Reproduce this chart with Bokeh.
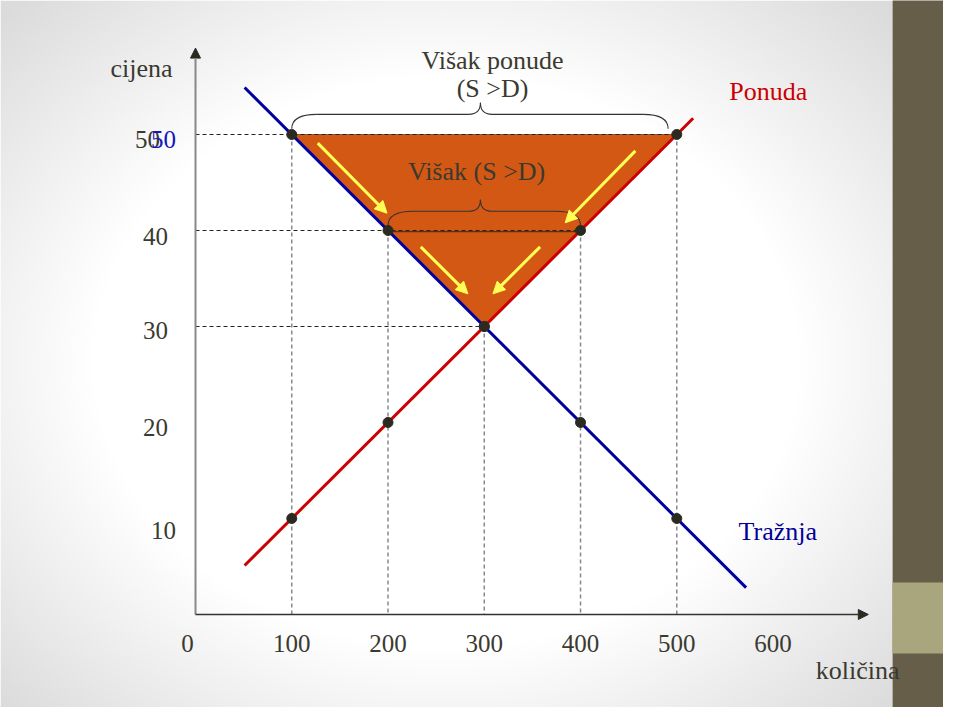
import numpy as np
from bokeh.plotting import figure
from bokeh.models import Range1d, Arrow, NormalHead, ColumnDataSource
from bokeh.core.properties import value
from bokeh.embed import file_html
from bokeh.resources import INLINE

# ---------------- data ----------------
quantity = [100, 200, 300, 400, 500]
demand_price = [50, 40, 30, 20, 10]
supply_price = [10, 20, 30, 40, 50]
demand_line_q = [51, 572]
demand_line_p = [54.9, 2.8]
supply_line_q = [51, 517]
supply_line_p = [5.1, 51.7]
surplus_q = [100, 500, 300]
surplus_p = [50, 50, 30]
inner_surplus_q = [200, 400]
inner_surplus_p = [40, 40]
x_ticks = [0, 100, 200, 300, 400, 500, 600]
y_ticks = [10, 20, 30, 40, 50]
arrow_x0 = [127, 457, 234, 358]
arrow_y0 = [49.1, 48.3, 38.3, 38.3]
arrow_x1 = [199, 384, 283, 309]
arrow_y1 = [41.8, 40.8, 33.4, 33.4]
brace_left = [100, 200]
brace_right = [491, 400]
brace_center = [296, 296]
brace_base = [50.6, 40.5]
x_axis_end = 699
y_axis_end = 59

# ---------------- styles / layout ----------------
FONT = value("Liberation Serif")
TXT = "#3a3a30"
X0, X1 = -202.6, 777.1
Y0, Y1 = -9.69, 63.96
SIDEBAR_X = 724.2

p = figure(width=943, height=707, x_range=Range1d(X0, X1), y_range=Range1d(Y0, Y1),
           output_backend="svg", toolbar_location=None, x_axis_location=None,
           y_axis_location=None, min_border=0, outline_line_color=None,
           background_fill_color="white", border_fill_color="white")
p.grid.visible = False

# background vignette
W, H = 446, 354
xs = np.linspace(0, 892, W)
ys = np.linspace(707, 0, H)  # row 0 bottom
XX, YY = np.meshgrid(xs, ys)
r = np.sqrt(((XX - 446) / 444.0) ** 2 + ((YY - 362) / 360.0) ** 2)
g = (255 - 36 * np.clip((r - 0.8) / 0.6, 0, 1)).astype(np.uint32)
img = (255 << 24) | (g << 16) | (g << 8) | g
p.image_rgba(image=[img.astype(np.uint32)], x=X0, y=Y0, dw=SIDEBAR_X - X0, dh=Y1 - Y0)

# sidebar
p.quad(left=SIDEBAR_X, right=X1 + 5, bottom=Y0 - 5, top=Y1 + 5, color="#665E48", line_color=None)
p.quad(left=SIDEBAR_X, right=X1 + 5, bottom=-4.06, top=3.33, color="#A9A57C", line_color=None)

# surplus triangle
p.patch(surplus_q, surplus_p, fill_color="#D35814", line_color="#7a4020", line_width=0.8)
p.line(inner_surplus_q, [v - 0.12 for v in inner_surplus_p], line_color="#5a3010", line_width=1.2)

# guide lines
eq_idx = [2, 3, 4]
p.segment(x0=[0] * 3, y0=[supply_price[i] for i in eq_idx],
          x1=[quantity[i] for i in eq_idx], y1=[supply_price[i] for i in eq_idx],
          line_color="#222222", line_dash="4 3", line_width=1)
p.segment(x0=quantity, y0=[max(a, b) for a, b in zip(demand_price, supply_price)],
          x1=quantity, y1=[0] * len(quantity),
          line_color="#8a8a8a", line_dash="4 3", line_width=1.5)

# braces
bx0, by0, bx1, by1, bcx, bcy = [], [], [], [], [], []
lx0, ly0, lx1, ly1 = [], [], [], []
RE, RP, H1, H2 = 26, 12, 1.5, 2.7
for L, R, C, B in zip(brace_left, brace_right, brace_center, brace_base):
    h = B + H1
    pk = B + H2
    bx0.append(L); by0.append(B); bx1.append(L + RE); by1.append(h); bcx.append(L); bcy.append(h)
    bx0.append(R); by0.append(B); bx1.append(R - RE); by1.append(h); bcx.append(R); bcy.append(h)
    bx0.append(C - RP); by0.append(h); bx1.append(C); by1.append(pk); bcx.append(C); bcy.append(h)
    bx0.append(C + RP); by0.append(h); bx1.append(C); by1.append(pk); bcx.append(C); bcy.append(h)
    lx0 += [L + RE, C + RP]; ly0 += [h, h]; lx1 += [C - RP, R - RE]; ly1 += [h, h]
p.quadratic(x0=bx0, y0=by0, x1=bx1, y1=by1, cx=bcx, cy=bcy, line_color="#333333", line_width=1.1)
p.segment(x0=lx0, y0=ly0, x1=lx1, y1=ly1, line_color="#333333", line_width=1.1)

# demand / supply
p.line(supply_line_q, supply_line_p, line_color="#CC0000", line_width=3)
p.line(demand_line_q, demand_line_p, line_color="#0000A0", line_width=3)

# points
p.scatter(quantity, demand_price, size=10, color="#2b2a20")
p.scatter(quantity, supply_price, size=10, color="#2b2a20")

# yellow arrows
asrc = ColumnDataSource(dict(x0=arrow_x0, y0=arrow_y0, x1=arrow_x1, y1=arrow_y1))
p.add_layout(Arrow(end=NormalHead(size=12, fill_color="#FFFF55", line_color="#FFFF55"),
                   x_start="x0", y_start="y0", x_end="x1", y_end="y1", source=asrc,
                   line_color="#FFFF55", line_width=3))

# axes
p.add_layout(Arrow(end=NormalHead(size=10, fill_color="#2b2a20", line_color="#2b2a20"),
                   x_start=0, y_start=0, x_end=0, y_end=y_axis_end,
                   line_color="#888888", line_width=2))
p.add_layout(Arrow(end=NormalHead(size=10, fill_color="#2b2a20", line_color="#2b2a20"),
                   x_start=0, y_start=0, x_end=x_axis_end, y_end=0,
                   line_color="#333333", line_width=1.5))

# tick labels
TICK_SIZE = "25px"
p.text(x=[t if t else -8.3 for t in x_ticks], y=[-3.0] * len(x_ticks), text=[str(t) for t in x_ticks],
       text_font=FONT, text_font_size=TICK_SIZE, text_color=TXT,
       text_align="center", text_baseline="middle")
p.text(x=[-33.2, -41.6, -41.6, -41.6, -49.9], y=[8.75, 19.5, 29.6, 39.4, 49.5],
       text=[str(t) for t in y_ticks],
       text_font=FONT, text_font_size=TICK_SIZE, text_color=TXT,
       text_align="center", text_baseline="middle")
p.text(x=[-33.2], y=[y_ticks[-1] - 0.5], text=[str(y_ticks[-1])],
       text_font=FONT, text_font_size=TICK_SIZE, text_color="#1515BB",
       text_align="center", text_baseline="middle")

# labels
def label(x, y, t, color=TXT, size="26px"):
    p.text(x=[x], y=[y], text=[t], text_font=FONT, text_font_size=size, text_color=color,
           text_align="center", text_baseline="middle")

label(-56, 56.9, "cijena")
label(688, -5.8, "količina")
label(595, 54.5, "Ponuda", "#CC0000")
label(605, 8.65, "Tražnja", "#000099")
label(308.6, 57.7, "Višak ponude")
label(308.6, 54.8, "(S >D)")
label(292, 46.15, "Višak (S >D)")

open("out.html", "w").write(file_html(p, INLINE))
